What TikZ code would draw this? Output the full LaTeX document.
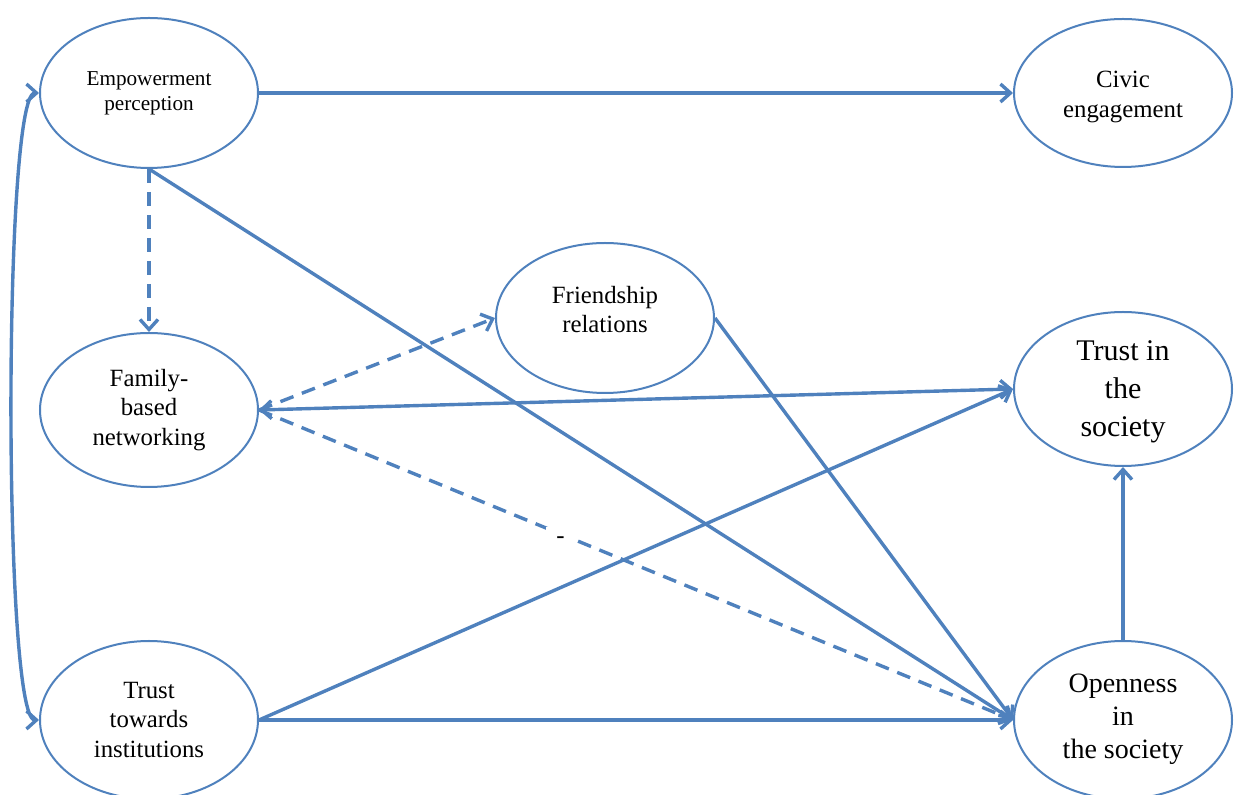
\documentclass[tikz,border=0pt]{standalone}
\usepackage{fontspec}
\setmainfont{Liberation Serif}
\usetikzlibrary{shapes.geometric,arrows.meta}
\definecolor{lineblue}{RGB}{79,129,189}

\begin{document}
\begin{tikzpicture}[x=0.5pt,y=-0.5pt,
    oval/.style={ellipse,draw=lineblue,line width=1pt,fill=white,inner sep=0pt,
        minimum width=109pt,minimum height=77pt,align=center,
        font=\fontsize{12.4}{14.6}\selectfont},
    tip/.tip={Straight Barb[length=5pt,width=9pt]},
    link/.style={draw=lineblue,line width=1.7pt,-tip},
    dashlink/.style={link,dash pattern=on 7pt off 4.5pt}]
    \useasboundingbox (0,0) rectangle (1238,795);

    \node[oval,minimum height=75pt,font=\fontsize{10.6}{12.6}\selectfont] (emp) at (149,93) {Empowerment\\perception};
    \node[oval,minimum height=74pt,font=\fontsize{12.4}{15}\selectfont] (civic) at (1123,93) {\\[-3pt]Civic\\engagement};
    \node[oval] (family) at (149,410) {Family-\\based\\networking};
    \node[oval,minimum height=79pt] (inst) at (149,720) {Trust\\towards\\institutions};
    \node[oval,minimum height=75pt] (friend) at (605,318) {Friendship\\relations\\[-6pt]};
    \node[oval,font=\fontsize{15}{19}\selectfont] (soc) at (1123,389) {\\[-6pt]Trust in\\the\\society};
    \node[oval,minimum height=79pt,font=\fontsize{14}{16.5}\selectfont] (open) at (1123,720) {\\[-8pt]Openness\\in\\the society};

    \draw[link] (emp) -- (civic);
    \draw[dashlink] (emp) -- (family);
    \draw[link] (emp.south) -- (open.west);
    \draw[dashlink] (family.east) -- (friend.west);
    \draw[link,tip-tip] (family.east) -- (soc.west);
    \draw[dashlink] (family.east) -- node[pos=0.4,yshift=-3pt,fill=white,inner sep=5pt,font=\fontsize{12.4}{14}\selectfont] {-} (open.west);
    \draw[link] (friend.east) -- (open.west);
    \draw[link] (inst.east) -- (soc.west);
    \draw[link] (inst) -- (open);
    \draw[link] (open) -- (soc);

    \draw[link,tip-tip] (emp.west) .. controls +(-36,0) and +(-36,0) .. (inst.west);
\end{tikzpicture}
\end{document}
